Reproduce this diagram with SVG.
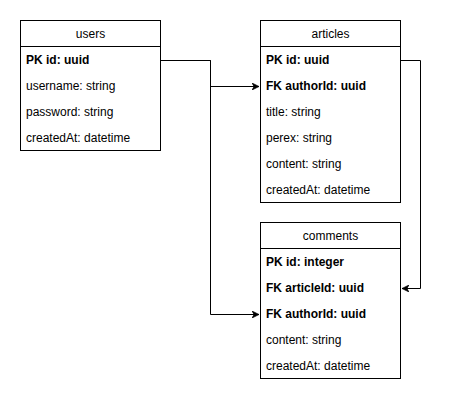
<svg xmlns="http://www.w3.org/2000/svg" width="449" height="402" viewBox="0 0 449 402">
<style>
.box{fill:#fff;stroke:#000;stroke-width:1}
.sep{stroke:#000;stroke-width:1}
.t{font-family:"Liberation Sans",Arial,sans-serif;font-size:12px;fill:#000}
.h{text-anchor:middle}
.b{font-weight:bold}
.edge{fill:none;stroke:#000;stroke-width:1}
</style>
<defs>
<marker id="arr" viewBox="0 0 10 10" refX="10" refY="5" markerWidth="7" markerHeight="7" markerUnits="userSpaceOnUse" orient="auto">
<path d="M0,0 L10,5 L0,10 L3,5 Z" fill="#000" stroke="#000" stroke-width="1"/>
</marker>
</defs>
<rect width="449" height="402" fill="#fff"/>
<g id="connectors">
<path class="edge" d="M160.5,60.5 H210.5 V86.5 H259" marker-end="url(#arr)"/>
<path class="edge" d="M160.5,60.5 H210.5 V314.5 H259" marker-end="url(#arr)"/>
<path class="edge" d="M400.5,60.5 H420.5 V288.5 H402" marker-end="url(#arr)"/>
</g>
<g id="users">
<rect class="box" x="20.5" y="20.5" width="140" height="130"/>
<line class="sep" x1="20.5" y1="46.5" x2="160.5" y2="46.5"/>
<text class="t h" x="90.5" y="38">users</text>
<text class="t b" x="26" y="64">PK id: uuid</text>
<text class="t" x="26" y="90">username: string</text>
<text class="t" x="26" y="116">password: string</text>
<text class="t" x="26" y="142">createdAt: datetime</text>
</g>
<g id="articles">
<rect class="box" x="260.5" y="20.5" width="140" height="182"/>
<line class="sep" x1="260.5" y1="46.5" x2="400.5" y2="46.5"/>
<text class="t h" x="330.5" y="38">articles</text>
<text class="t b" x="266" y="64">PK id: uuid</text>
<text class="t b" x="266" y="90">FK authorId: uuid</text>
<text class="t" x="266" y="116">title: string</text>
<text class="t" x="266" y="142">perex: string</text>
<text class="t" x="266" y="168">content: string</text>
<text class="t" x="266" y="194">createdAt: datetime</text>
</g>
<g id="comments">
<rect class="box" x="260.5" y="222.5" width="140" height="156"/>
<line class="sep" x1="260.5" y1="248.5" x2="400.5" y2="248.5"/>
<text class="t h" x="330.5" y="240">comments</text>
<text class="t b" x="266" y="266">PK id: integer</text>
<text class="t b" x="266" y="292">FK articleId: uuid</text>
<text class="t b" x="266" y="318">FK authorId: uuid</text>
<text class="t" x="266" y="344">content: string</text>
<text class="t" x="266" y="370">createdAt: datetime</text>
</g>
</svg>
